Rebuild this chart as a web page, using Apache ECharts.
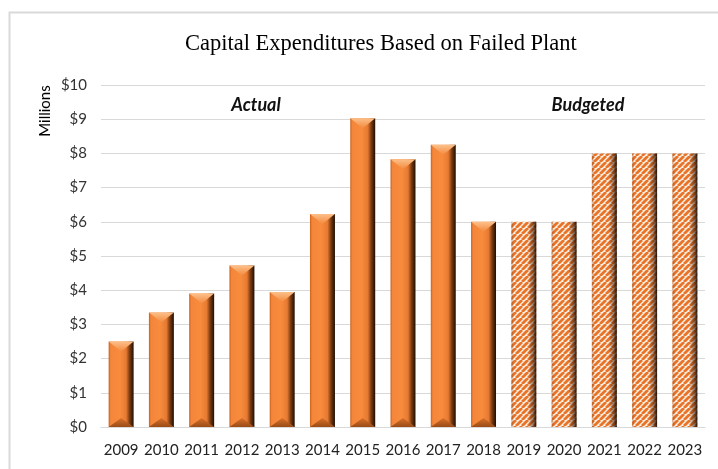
<!DOCTYPE html>
<html>
<head>
<meta charset="utf-8">
<script src="https://cdn.jsdelivr.net/npm/echarts@6/dist/echarts.min.js"></script>
<style>
html,body{margin:0;padding:0;background:#fff;}
#chart{width:718px;height:469px;}
</style>
</head>
<body>
<div id="chart"></div>
<script>
var categories = ['2009','2010','2011','2012','2013','2014','2015','2016','2017','2018','2019','2020','2021','2022','2023'];
var actualValues = [2.5, 3.35, 3.9, 4.72, 3.95, 6.23, 9.03, 7.83, 8.25, 6.0, null, null, null, null, null];
var budgetedValues = [null, null, null, null, null, null, null, null, null, null, 6.0, 6.0, 8.0, 8.0, 8.0];

function makeStripe(){
  var c = document.createElement('canvas');
  c.width = 6; c.height = 6;
  var g = c.getContext('2d');
  g.fillStyle = '#fdf0e4';
  g.fillRect(0,0,6,6);
  g.strokeStyle = '#e8742a';
  g.lineWidth = 2.8;
  for (var k=-6;k<=12;k+=6){
    g.beginPath();
    g.moveTo(k, 6);
    g.lineTo(k+6, 0);
    g.stroke();
  }
  return c;
}
var stripe = makeStripe();

function shadeGrad(){
  return new echarts.graphic.LinearGradient(0,0,1,0,[
    {offset:0, color:'#c8611c'},
    {offset:0.08, color:'#f3863a'},
    {offset:0.45, color:'#f88b3c'},
    {offset:0.7, color:'#e67a32'},
    {offset:0.84, color:'#7a3a10'},
    {offset:1, color:'#1e0e04'}
  ]);
}
function overlayGrad(){
  return new echarts.graphic.LinearGradient(0,0,1,0,[
    {offset:0, color:'rgba(150,70,20,0.35)'},
    {offset:0.1, color:'rgba(0,0,0,0)'},
    {offset:0.68, color:'rgba(0,0,0,0)'},
    {offset:0.86, color:'rgba(60,25,5,0.5)'},
    {offset:1, color:'rgba(10,5,0,0.9)'}
  ]);
}

function makeRender(pattern){
  return function(params, api){
    var v = api.value(1);
    if (v == null || isNaN(v)) return;
    var top = api.coord([api.value(0), v]);
    var base = api.coord([api.value(0), 0]);
    var bw = api.size([1,0])[0]*0.62;
    var x0 = top[0]-bw/2, x1 = top[0]+bw/2;
    var yt = top[1], yb = base[1];
    var d = Math.min(10, (yb-yt)/3);
    var children = [];
    if (!pattern){
      children.push({type:'rect', shape:{x:x0,y:yt,width:bw,height:yb-yt}, style:{fill:shadeGrad()}});
      children.push({type:'polygon', shape:{points:[[x0,yt],[x1,yt],[top[0],yt+d]]}, style:{fill:new echarts.graphic.LinearGradient(0,0,0,1,[{offset:0,color:'#fcc08a'},{offset:1,color:'#f48a3e'}])}});
      children.push({type:'polygon', shape:{points:[[x0,yb],[x1,yb],[top[0],yb-d*0.9]]}, style:{fill:new echarts.graphic.LinearGradient(0,0,0,1,[{offset:0,color:'#d9702a'},{offset:1,color:'#9a4c18'}])}});
    } else {
      children.push({type:'rect', shape:{x:x0,y:yt,width:bw,height:yb-yt}, style:{fill:{image:stripe, repeat:'repeat'}}});
      children.push({type:'rect', shape:{x:x0,y:yt,width:bw,height:yb-yt}, style:{fill:overlayGrad()}});
    }
    return {type:'group', children:children};
  };
}

var chart = echarts.init(document.getElementById('chart'), null, {renderer:'canvas'});
chart.setOption({
  backgroundColor:'#ffffff',
  animation:false,
  title:{
    text:'Capital Expenditures Based on Failed Plant',
    left:180, top:28,
    textStyle:{fontFamily:'Liberation Serif', fontWeight:'normal', fontSize:22.5, color:'#000'}
  },
  grid:{left:101, right:13, top:85, bottom:42},
  xAxis:{
    type:'category', data:categories,
    axisLine:{lineStyle:{color:'#d9d9d9'}},
    axisTick:{show:false},
    axisLabel:{fontFamily:'Lato', fontSize:15, color:'#222', margin:16, interval:0, hideOverlap:false}
  },
  yAxis:{
    type:'value', min:0, max:10, interval:1,
    axisLine:{show:false}, axisTick:{show:false},
    splitLine:{lineStyle:{color:'#d9d9d9', width:1}},
    axisLabel:{fontFamily:'Lato', fontSize:15, color:'#333', margin:14,
      formatter:function(v){return '$'+v;}}
  },
  graphic:[
    {type:'rect', left:7, top:10, shape:{width:760, height:500}, style:{fill:'none', stroke:'#d9d9d9', lineWidth:2}, silent:true},
    {type:'text', x:45, y:111, rotation:Math.PI/2, style:{text:'Millions', fontFamily:'Lato', fontSize:15, fill:'#000', textAlign:'center', textVerticalAlign:'middle'}},
    {type:'text', x:256, y:105, style:{text:'Actual', fontFamily:'Lato', fontStyle:'italic', fontWeight:'bold', fontSize:18, fill:'#111', textAlign:'center', textVerticalAlign:'middle'}},
    {type:'text', x:588, y:105, style:{text:'Budgeted', fontFamily:'Lato', fontStyle:'italic', fontWeight:'bold', fontSize:18, fill:'#111', textAlign:'center', textVerticalAlign:'middle'}}
  ],
  series:[
    {type:'custom', name:'Actual', renderItem:makeRender(false),
      data:categories.map(function(c,i){return [i, actualValues[i]];}), encode:{x:0,y:1}},
    {type:'custom', name:'Budgeted', renderItem:makeRender(true),
      data:categories.map(function(c,i){return [i, budgetedValues[i]];}), encode:{x:0,y:1}}
  ]
});
</script>
</body>
</html>
